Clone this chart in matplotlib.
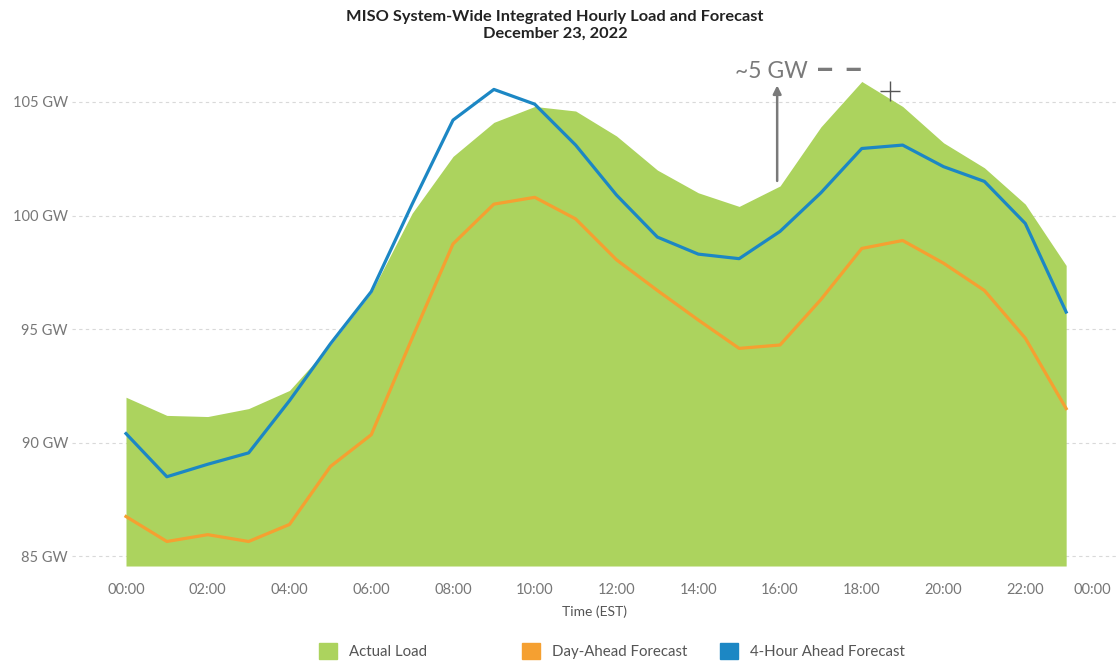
import matplotlib
matplotlib.use("Agg")
from matplotlib import pyplot as plt
from matplotlib.patches import Patch

# hourly values, GW (hour 0..23, EST)
hours = list(range(24))
actual_load = [92.0, 91.2, 91.15, 91.5, 92.3, 94.3, 96.6, 100.1, 102.6, 104.1,
               104.8, 104.6, 103.5, 102.0, 101.0, 100.4, 101.3, 103.9, 105.9, 104.8,
               103.2, 102.1, 100.5, 97.8]
day_ahead = [86.75, 85.65, 85.95, 85.65, 86.4, 88.95, 90.35, 94.6, 98.75, 100.5,
             100.8, 99.85, 98.05, 96.7, 95.4, 94.15, 94.3, 96.3, 98.55, 98.9,
             97.9, 96.7, 94.6, 91.5]
four_hour = [90.4, 88.5, 89.05, 89.55, 91.85, 94.35, 96.65, 100.5, 104.2, 105.55,
             104.9, 103.1, 100.9, 99.05, 98.3, 98.1, 99.3, 101.0, 102.95, 103.1,
             102.15, 101.5, 99.65, 95.75]

tick_pos = [0, 2, 4, 6, 8, 10, 12, 14, 16, 18, 20, 22, 23.65]
tick_labels = ["00:00", "02:00", "04:00", "06:00", "08:00", "10:00", "12:00",
               "14:00", "16:00", "18:00", "20:00", "22:00", "00:00"]
y_ticks = [85, 90, 95, 100, 105]

series_names = ["Actual Load", "Day-Ahead Forecast", "4-Hour Ahead Forecast"]

Y_MIN = 84.57

GREEN = "#acd35e"
ORANGE = "#f5a031"
BLUE = "#1c87c4"
GREY = "#777777"

plt.rcParams['font.family'] = ['Lato', 'DejaVu Sans']

fig = plt.figure(figsize=(11.17, 6.61), dpi=100)
ax = fig.add_axes([0.0645, 0.1437, 0.935, 0.765])

ax.fill_between(hours, actual_load, Y_MIN, color=GREEN, linewidth=0, zorder=2)
ax.plot(hours, day_ahead, color=ORANGE, linewidth=2.3, zorder=3)
ax.plot(hours, four_hour, color=BLUE, linewidth=2.3, zorder=3)

ax.set_xlim(-1.32, 24.23)
ax.set_ylim(Y_MIN, 106.83)
ax.set_xticks(tick_pos)
ax.set_xticklabels(tick_labels)
ax.set_yticks(y_ticks)
ax.set_yticklabels([f"{v} GW" for v in y_ticks])
ax.tick_params(length=0, labelsize=10.5, colors=GREY)
ax.tick_params(axis='y', pad=3)
ax.tick_params(axis='x', pad=12)
for s in ax.spines.values():
    s.set_visible(False)
ax.yaxis.grid(True, linestyle=(0, (3, 3)), color="#d9d9d9", linewidth=0.8, zorder=0)
ax.set_axisbelow(True)
ax.set_xlabel("Time (EST)", fontsize=10, color="#555555", labelpad=6)

fig.text(0.497, 0.975, "MISO System-Wide Integrated Hourly Load and Forecast",
         ha="center", va="center", fontsize=11.8, fontweight="bold", color="#222222")
fig.text(0.497, 0.949, "December 23, 2022",
         ha="center", va="center", fontsize=11.8, fontweight="bold", color="#222222")

# ~5 GW annotation
ax.annotate("", xy=(15.93, 105.85), xytext=(15.93, 101.4),
            arrowprops=dict(arrowstyle="-|>", color="#7a7a7a", lw=1.8,
                            mutation_scale=12), zorder=4)
ax.text(14.9, 106.35, "~5 GW", fontsize=16.5, color="#7a7a7a", va="center",
        ha="left", clip_on=False)
ax.text(16.85, 106.4, "\u2013 \u2013", fontsize=25, color="#7a7a7a", va="center",
        ha="left", fontweight="bold", clip_on=False)
ax.plot([18.7], [105.5], marker="+", markersize=14, color="#555555",
        markeredgewidth=1.0, zorder=5)

# legend items placed one by one (fixed item width as in the original)
colors = [GREEN, ORANGE, BLUE]
legend_x = [0.2855, 0.4675, 0.6445]
for name, c, lx in zip(series_names, colors, legend_x):
    fig.legend(handles=[Patch(color=c, label=name)], loc="center left",
               bbox_to_anchor=(lx, 0.015), frameon=False, fontsize=10.8,
               handlelength=1.2, handleheight=1.2, borderpad=0,
               borderaxespad=0, handletextpad=0.8, labelcolor="#555555")

fig.savefig("out.png", dpi=100)
